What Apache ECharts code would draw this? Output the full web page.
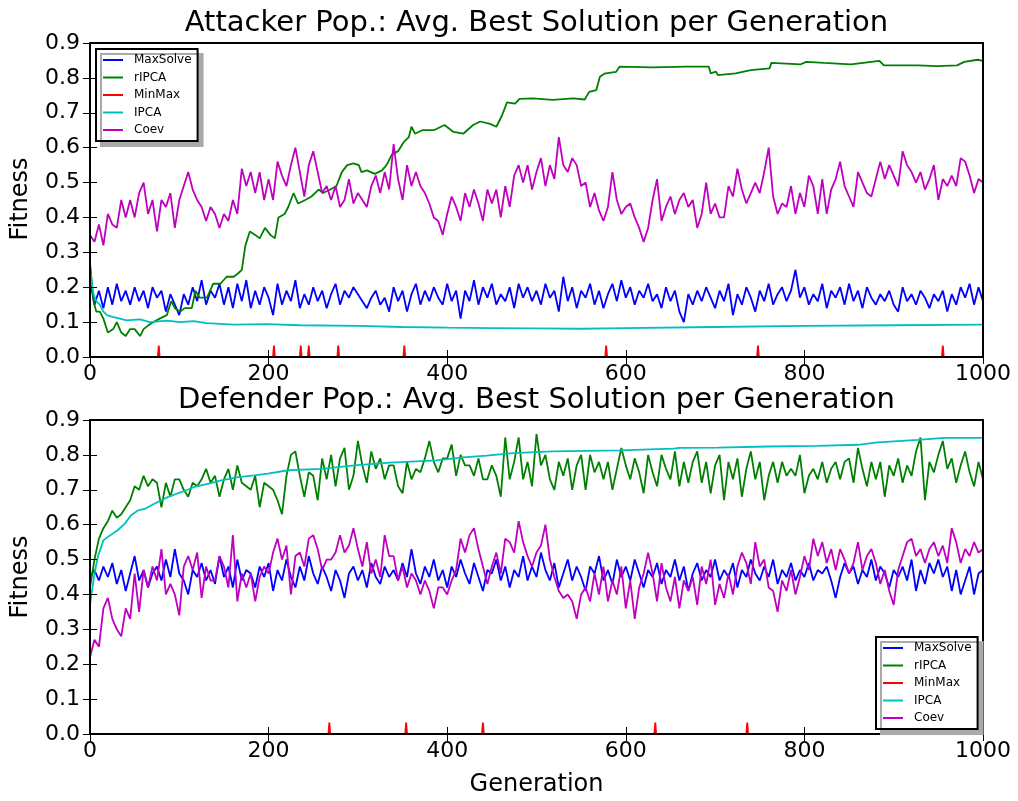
<!DOCTYPE html>
<html>
<head>
<meta charset="utf-8">
<title>Avg. Best Solution per Generation</title>
<script src="https://cdn.jsdelivr.net/npm/echarts@6.0.0/dist/echarts.min.js"></script>
<style>
  html, body { margin: 0; padding: 0; background: #fff; }
  #chart { width: 1018px; height: 801px; }
</style>
</head>
<body>
<div id="chart"></div>
<script>
// noisy curves are read every GEN_STEP generations
const GEN_STEP = 5;
const seriesNames = ["MaxSolve", "rIPCA", "MinMax", "IPCA", "Coev"];
const seriesColors = ["#0000ff", "#008000", "#ff0000", "#00bfbf", "#bf00bf"];
const spikeHeight = 0.033;

// ---- Attacker population ----
const attMaxSolve = [
  0.22, 0.15, 0.19, 0.14, 0.20, 0.15, 0.21, 0.16, 0.19, 0.15,
  0.20, 0.16, 0.19, 0.14, 0.20, 0.17, 0.19, 0.13, 0.18, 0.15,
  0.12, 0.18, 0.15, 0.20, 0.16, 0.22, 0.15, 0.19, 0.17, 0.21,
  0.15, 0.20, 0.14, 0.21, 0.16, 0.22, 0.14, 0.19, 0.15, 0.20,
  0.17, 0.12, 0.21, 0.15, 0.19, 0.16, 0.22, 0.14, 0.18, 0.15,
  0.20, 0.16, 0.19, 0.14, 0.18, 0.21, 0.15, 0.19, 0.17, 0.20,
  0.18, 0.16, 0.14, 0.17, 0.19, 0.15, 0.17, 0.13, 0.20, 0.16,
  0.19, 0.13, 0.18, 0.21, 0.15, 0.19, 0.16, 0.20, 0.17, 0.15,
  0.21, 0.16, 0.19, 0.11, 0.19, 0.16, 0.22, 0.15, 0.20, 0.17,
  0.21, 0.15, 0.18, 0.16, 0.20, 0.14, 0.21, 0.17, 0.20, 0.16,
  0.19, 0.15, 0.21, 0.17, 0.19, 0.13, 0.23, 0.16, 0.20, 0.14,
  0.19, 0.17, 0.21, 0.15, 0.19, 0.14, 0.18, 0.21, 0.16, 0.22,
  0.17, 0.20, 0.15, 0.19, 0.17, 0.21, 0.16, 0.18, 0.14, 0.20,
  0.16, 0.19, 0.13, 0.10, 0.18, 0.15, 0.19, 0.16, 0.20, 0.17,
  0.14, 0.19, 0.16, 0.21, 0.12, 0.18, 0.15, 0.20, 0.17, 0.13,
  0.19, 0.16, 0.21, 0.15, 0.18, 0.20, 0.16, 0.19, 0.25, 0.17,
  0.20, 0.15, 0.18, 0.16, 0.21, 0.14, 0.19, 0.17, 0.20, 0.15,
  0.21, 0.16, 0.19, 0.14, 0.20, 0.17, 0.15, 0.18, 0.16, 0.19,
  0.15, 0.13, 0.20, 0.16, 0.18, 0.15, 0.19, 0.17, 0.14, 0.18,
  0.16, 0.19, 0.13, 0.18, 0.15, 0.20, 0.17, 0.21, 0.15, 0.20,
  0.16
];
const attCoev = [
  0.35, 0.33, 0.38, 0.32, 0.41, 0.38, 0.37, 0.45, 0.40, 0.45,
  0.40, 0.47, 0.50, 0.41, 0.45, 0.36, 0.45, 0.43, 0.47, 0.37,
  0.45, 0.49, 0.53, 0.48, 0.45, 0.43, 0.39, 0.43, 0.41, 0.37,
  0.41, 0.39, 0.45, 0.41, 0.54, 0.49, 0.53, 0.47, 0.53, 0.45,
  0.51, 0.45, 0.56, 0.52, 0.49, 0.55, 0.60, 0.53, 0.46, 0.55,
  0.59, 0.53, 0.47, 0.49, 0.45, 0.49, 0.43, 0.45, 0.51, 0.44,
  0.47, 0.45, 0.43, 0.49, 0.52, 0.47, 0.53, 0.48, 0.61, 0.51,
  0.45, 0.55, 0.49, 0.53, 0.49, 0.47, 0.44, 0.40, 0.39, 0.35,
  0.41, 0.46, 0.43, 0.39, 0.47, 0.43, 0.48, 0.44, 0.39, 0.48,
  0.44, 0.48, 0.40, 0.49, 0.43, 0.52, 0.55, 0.50, 0.55, 0.48,
  0.53, 0.57, 0.49, 0.55, 0.51, 0.63, 0.55, 0.53, 0.57, 0.55,
  0.49, 0.50, 0.43, 0.47, 0.42, 0.39, 0.43, 0.53, 0.45, 0.41,
  0.43, 0.44, 0.40, 0.37, 0.33, 0.37, 0.45, 0.51, 0.39, 0.43,
  0.46, 0.41, 0.45, 0.47, 0.43, 0.45, 0.37, 0.41, 0.50, 0.41,
  0.44, 0.40, 0.40, 0.49, 0.46, 0.54, 0.48, 0.44, 0.47, 0.50,
  0.47, 0.53, 0.60, 0.46, 0.41, 0.44, 0.43, 0.49, 0.41, 0.47,
  0.43, 0.52, 0.49, 0.41, 0.51, 0.41, 0.48, 0.51, 0.56, 0.49,
  0.46, 0.43, 0.53, 0.50, 0.47, 0.46, 0.51, 0.56, 0.51, 0.55,
  0.52, 0.49, 0.59, 0.55, 0.53, 0.50, 0.53, 0.48, 0.51, 0.55,
  0.45, 0.51, 0.49, 0.52, 0.49, 0.57, 0.56, 0.52, 0.47, 0.51,
  0.50
];
// rIPCA (attacker) is a step-like curve, read at its breakpoints
const attRipcaGen = [
  0, 4, 7, 11, 15, 20, 26, 30, 35, 40,
  45, 50, 56, 60, 65, 71, 78, 86, 91, 95,
  101, 106, 114, 118, 123, 131, 138, 146, 153, 161,
  166, 170, 174, 179, 185, 190, 196, 202, 207, 211,
  218, 222, 228, 233, 241, 248, 256, 261, 269, 276,
  282, 288, 295, 301, 304, 310, 319, 327, 332, 338,
  345, 351, 357, 360, 364, 372, 385, 397, 407, 418,
  429, 437, 448, 455, 461, 467, 476, 481, 496, 518,
  541, 554, 559, 567, 571, 576, 589, 593, 630, 668,
  693, 695, 701, 703, 723, 740, 761, 763, 796, 802,
  822, 852, 884, 889, 927, 949, 971, 979, 994, 1000
];
const attRipca = [
  0.27, 0.16, 0.13, 0.13, 0.11, 0.07, 0.08, 0.10, 0.07, 0.06,
  0.08, 0.08, 0.06, 0.08, 0.09, 0.10, 0.11, 0.12, 0.16, 0.14,
  0.13, 0.14, 0.14, 0.19, 0.17, 0.17, 0.21, 0.21, 0.23, 0.23,
  0.24, 0.25, 0.32, 0.36, 0.35, 0.34, 0.37, 0.35, 0.34, 0.40,
  0.41, 0.43, 0.47, 0.44, 0.45, 0.46, 0.48, 0.47, 0.48, 0.49,
  0.53, 0.55, 0.555, 0.55, 0.53, 0.535, 0.525, 0.535, 0.55, 0.58,
  0.59, 0.615, 0.63, 0.66, 0.64, 0.65, 0.65, 0.665, 0.645, 0.64,
  0.665, 0.675, 0.668, 0.66, 0.69, 0.73, 0.726, 0.74, 0.741, 0.737,
  0.741, 0.738, 0.76, 0.765, 0.803, 0.812, 0.817, 0.832, 0.830, 0.832,
  0.832, 0.813, 0.818, 0.808, 0.813, 0.822, 0.827, 0.843, 0.839, 0.846,
  0.843, 0.839, 0.849, 0.836, 0.836, 0.834, 0.836, 0.846, 0.852, 0.849
];
const attIpcaGen = [
  0, 2, 4, 7, 11, 15, 19, 25, 30, 41,
  56, 67, 86, 101, 116, 131, 161, 198, 235, 300,
  350, 400, 450, 500, 550, 600, 700, 800, 900, 1000
];
const attIpca = [
  0.26, 0.21, 0.18, 0.16, 0.15, 0.13, 0.12, 0.115, 0.112, 0.105,
  0.108, 0.10, 0.104, 0.10, 0.103, 0.097, 0.093, 0.094, 0.091, 0.089,
  0.086, 0.084, 0.083, 0.082, 0.081, 0.083, 0.086, 0.089, 0.091, 0.093
];
const attMinMaxSpikes = [77, 206, 236, 245, 278, 352, 578, 748, 955];

// ---- Defender population ----
const defMaxSolve = [
  0.45, 0.47, 0.44, 0.48, 0.45, 0.49, 0.43, 0.47, 0.41, 0.46,
  0.51, 0.44, 0.47, 0.42, 0.46, 0.48, 0.44, 0.50, 0.45, 0.53,
  0.46, 0.44, 0.40, 0.47, 0.45, 0.49, 0.44, 0.47, 0.43, 0.51,
  0.45, 0.48, 0.42, 0.50, 0.44, 0.47, 0.46, 0.42, 0.48, 0.45,
  0.49, 0.41, 0.47, 0.44, 0.50, 0.45, 0.42, 0.48, 0.44, 0.51,
  0.46, 0.43, 0.48, 0.45, 0.41, 0.47, 0.44, 0.39, 0.46, 0.48,
  0.44, 0.47, 0.42, 0.49, 0.45, 0.43, 0.48, 0.45, 0.47, 0.44,
  0.49, 0.45, 0.53, 0.46, 0.43, 0.48, 0.45, 0.50, 0.44, 0.47,
  0.42, 0.48, 0.45, 0.50, 0.46, 0.43, 0.49, 0.45, 0.41, 0.47,
  0.46, 0.50, 0.44, 0.48, 0.42, 0.47, 0.45, 0.51, 0.44, 0.48,
  0.45, 0.52, 0.47, 0.44, 0.49, 0.42, 0.46, 0.50, 0.44, 0.48,
  0.45, 0.41, 0.48, 0.46, 0.51, 0.44, 0.47, 0.43, 0.50, 0.45,
  0.48, 0.44, 0.50, 0.46, 0.42, 0.47, 0.45, 0.49, 0.43, 0.47,
  0.45, 0.50, 0.44, 0.48, 0.41, 0.46, 0.49, 0.44, 0.47, 0.45,
  0.50, 0.44, 0.47, 0.45, 0.49, 0.42, 0.47, 0.45, 0.50, 0.46,
  0.44, 0.48, 0.45, 0.50, 0.43, 0.47, 0.45, 0.49, 0.44, 0.47,
  0.45, 0.49, 0.44, 0.47, 0.46, 0.48, 0.44, 0.39, 0.45, 0.49,
  0.46, 0.48, 0.43, 0.47, 0.45, 0.50, 0.44, 0.48, 0.46, 0.42,
  0.47, 0.45, 0.48, 0.44, 0.50, 0.41, 0.47, 0.43, 0.49, 0.46,
  0.50, 0.45, 0.48, 0.41, 0.47, 0.40, 0.44, 0.48, 0.40, 0.46,
  0.47
];
const defRipca = [
  0.42, 0.50, 0.56, 0.59, 0.61, 0.64, 0.62, 0.63, 0.65, 0.67,
  0.71, 0.70, 0.74, 0.71, 0.73, 0.72, 0.65, 0.72, 0.68, 0.73,
  0.73, 0.70, 0.68, 0.72, 0.71, 0.73, 0.76, 0.72, 0.74, 0.68,
  0.73, 0.76, 0.70, 0.77, 0.72, 0.71, 0.70, 0.74, 0.65, 0.72,
  0.71, 0.70, 0.67, 0.63, 0.74, 0.80, 0.81, 0.74, 0.68, 0.75,
  0.74, 0.67, 0.79, 0.73, 0.80, 0.71, 0.79, 0.82, 0.70, 0.74,
  0.84, 0.77, 0.72, 0.81, 0.76, 0.79, 0.73, 0.77, 0.77, 0.71,
  0.69, 0.78, 0.73, 0.76, 0.75, 0.79, 0.84, 0.78, 0.75, 0.79,
  0.79, 0.83, 0.74, 0.80, 0.77, 0.77, 0.74, 0.79, 0.73, 0.73,
  0.77, 0.74, 0.68, 0.85, 0.73, 0.78, 0.85, 0.73, 0.78, 0.71,
  0.86, 0.77, 0.80, 0.73, 0.70, 0.78, 0.74, 0.79, 0.70, 0.77,
  0.80, 0.70, 0.80, 0.75, 0.78, 0.73, 0.78, 0.70, 0.76, 0.82,
  0.77, 0.73, 0.79, 0.75, 0.69, 0.80, 0.75, 0.71, 0.80, 0.76,
  0.73, 0.81, 0.71, 0.78, 0.72, 0.78, 0.81, 0.72, 0.78, 0.69,
  0.77, 0.80, 0.67, 0.78, 0.73, 0.79, 0.68, 0.76, 0.81, 0.73,
  0.78, 0.67, 0.74, 0.78, 0.72, 0.78, 0.74, 0.76, 0.74, 0.80,
  0.69, 0.74, 0.76, 0.73, 0.78, 0.72, 0.76, 0.78, 0.73, 0.78,
  0.79, 0.72, 0.82, 0.76, 0.71, 0.78, 0.73, 0.78, 0.68, 0.77,
  0.74, 0.79, 0.72, 0.77, 0.74, 0.81, 0.85, 0.67, 0.78, 0.75,
  0.80, 0.84, 0.76, 0.79, 0.72, 0.77, 0.81, 0.75, 0.71, 0.78,
  0.73
];
const defCoev = [
  0.22, 0.27, 0.25, 0.36, 0.39, 0.33, 0.30, 0.28, 0.36, 0.33,
  0.46, 0.35, 0.47, 0.42, 0.48, 0.44, 0.53, 0.40, 0.43, 0.40,
  0.34, 0.48, 0.51, 0.47, 0.52, 0.39, 0.48, 0.44, 0.44, 0.51,
  0.48, 0.42, 0.57, 0.38, 0.46, 0.42, 0.46, 0.38, 0.45, 0.48,
  0.46, 0.52, 0.56, 0.50, 0.54, 0.40, 0.51, 0.52, 0.48, 0.56,
  0.57, 0.53, 0.47, 0.50, 0.50, 0.52, 0.57, 0.52, 0.54, 0.59,
  0.53, 0.48, 0.55, 0.46, 0.50, 0.45, 0.57, 0.51, 0.51, 0.44,
  0.48, 0.42, 0.46, 0.44, 0.40, 0.44, 0.41, 0.36, 0.42, 0.42,
  0.40, 0.44, 0.47, 0.56, 0.52, 0.57, 0.59, 0.53, 0.48, 0.43,
  0.48, 0.52, 0.46, 0.56, 0.55, 0.52, 0.61, 0.55, 0.51, 0.48,
  0.52, 0.54, 0.60, 0.50, 0.45, 0.41, 0.39, 0.40, 0.38, 0.33,
  0.40, 0.42, 0.38, 0.46, 0.40, 0.48, 0.38, 0.44, 0.40, 0.48,
  0.36, 0.44, 0.33, 0.42, 0.46, 0.52, 0.46, 0.38, 0.49, 0.42,
  0.38, 0.45, 0.36, 0.44, 0.41, 0.45, 0.37, 0.48, 0.43, 0.50,
  0.37, 0.43, 0.39, 0.46, 0.40, 0.48, 0.52, 0.49, 0.43, 0.55,
  0.48, 0.50, 0.42, 0.41, 0.35, 0.44, 0.41, 0.47, 0.40, 0.45,
  0.51, 0.47, 0.56, 0.51, 0.55, 0.49, 0.53, 0.47, 0.53, 0.50,
  0.46, 0.49, 0.55, 0.47, 0.51, 0.53, 0.49, 0.43, 0.47, 0.41,
  0.37, 0.47, 0.51, 0.55, 0.56, 0.51, 0.53, 0.49, 0.53, 0.55,
  0.51, 0.54, 0.49, 0.59, 0.55, 0.49, 0.53, 0.51, 0.55, 0.52,
  0.53
];
const defIpcaGen = [
  0, 5, 9, 15, 20, 31, 39, 46, 54, 61,
  72, 87, 102, 117, 132, 147, 166, 184, 199, 222,
  259, 296, 336, 388, 418, 444, 474, 518, 593, 653,
  660, 703, 759, 815, 860, 882, 927, 957, 1000
];
const defIpca = [
  0.37, 0.46, 0.51, 0.555, 0.565, 0.584, 0.603, 0.627, 0.641, 0.645,
  0.66, 0.679, 0.693, 0.708, 0.717, 0.727, 0.736, 0.741, 0.746, 0.756,
  0.76, 0.77, 0.778, 0.784, 0.793, 0.798, 0.805, 0.81, 0.813, 0.818,
  0.82, 0.821, 0.824, 0.826, 0.829, 0.836, 0.843, 0.849, 0.849
];
const defMinMaxSpikes = [268, 354, 440, 633, 736];

// ---- helpers ----
const FONT = "DejaVu Sans";

function stepPairs(vals) {
  return vals.map((v, i) => [i * GEN_STEP, v]);
}
function zipPairs(gens, vals) {
  return gens.map((g, i) => [g, vals[i]]);
}
function spikePairs(gens) {
  const out = [[0, 0]];
  gens.forEach(g => {
    out.push([g - 1, 0], [g, spikeHeight], [g + 1, 0]);
  });
  out.push([1000, 0]);
  return out;
}

const grids = [
  { left: 90, top: 43, width: 893, height: 314 },
  { left: 90, top: 420, width: 893, height: 314 }
];

const tickStyle = { inside: true, length: 7, lineStyle: { color: "#000", width: 1 } };

function makeXAxes(gi) {
  const base = {
    gridIndex: gi, type: "value", min: 0, max: 1000, interval: 200,
    axisLine: { show: false }, splitLine: { show: false }, axisTick: tickStyle, z: 4
  };
  return [
    Object.assign({}, base, {
      position: "bottom",
      axisLabel: { color: "#000", fontSize: 22, fontFamily: FONT, margin: 6, formatter: v => String(v) }
    }),
    Object.assign({}, base, { position: "top", axisLabel: { show: false } })
  ];
}
function makeYAxes(gi) {
  const base = {
    gridIndex: gi, type: "value", min: 0, max: 0.9, interval: 0.1,
    axisLine: { show: false }, splitLine: { show: false }, axisTick: tickStyle, z: 4
  };
  return [
    Object.assign({}, base, {
      position: "left",
      axisLabel: {
        color: "#000", fontSize: 22, fontFamily: FONT, margin: 10,
        formatter: v => v.toFixed(1)
      }
    }),
    Object.assign({}, base, { position: "right", axisLabel: { show: false } })
  ];
}

function makeSeries(gi, curves) {
  return curves.map((data, k) => ({
    name: seriesNames[k],
    type: "line",
    xAxisIndex: gi * 2,
    yAxisIndex: gi * 2,
    data: data,
    showSymbol: false,
    symbol: "none",
    lineStyle: { color: seriesColors[k], width: 1.8 },
    itemStyle: { color: seriesColors[k] },
    z: 2 + k * 0.01,
    animation: false
  }));
}

function makeLegend(left, top) {
  return {
    data: seriesNames,
    orient: "vertical",
    left: left, top: top,
    padding: [4, 6, 4, 7],
    itemWidth: 20, itemHeight: 2, itemGap: 3.5,
    icon: "rect",
    selectedMode: false,
    textStyle: { fontSize: 12, lineHeight: 14, fontFamily: FONT, color: "#000", padding: [0, 0, 0, 6] },
    borderColor: "#000", borderWidth: 2, borderRadius: 0,
    backgroundColor: "#fff",
    shadowColor: "#aaaaaa", shadowBlur: 0, shadowOffsetX: 5, shadowOffsetY: 5,
    z: 10
  };
}

const attCurves = [
  stepPairs(attMaxSolve),
  zipPairs(attRipcaGen, attRipca),
  spikePairs(attMinMaxSpikes),
  zipPairs(attIpcaGen, attIpca),
  stepPairs(attCoev)
];
const defCurves = [
  stepPairs(defMaxSolve),
  stepPairs(defRipca),
  spikePairs(defMinMaxSpikes),
  zipPairs(defIpcaGen, defIpca),
  stepPairs(defCoev)
];

const option = {
  backgroundColor: "#fff",
  animation: false,
  grid: grids.map(g => Object.assign({
    show: true, borderColor: "#000", borderWidth: 2,
    backgroundColor: "transparent", containLabel: false, outerBoundsMode: "none", z: 3
  }, g)),
  xAxis: makeXAxes(0).concat(makeXAxes(1)),
  yAxis: makeYAxes(0).concat(makeYAxes(1)),
  legend: [makeLegend(96, 49), makeLegend(876, 637)],
  graphic: [
    { type: "text", style: { text: "Attacker Pop.: Avg. Best Solution per Generation", x: 536.5, y: 23, textAlign: "center", textVerticalAlign: "middle", font: "29px 'DejaVu Sans'", fill: "#000" } },
    { type: "text", style: { text: "Defender Pop.: Avg. Best Solution per Generation", x: 536.5, y: 400, textAlign: "center", textVerticalAlign: "middle", font: "29px 'DejaVu Sans'", fill: "#000" } },
    { type: "text", rotation: Math.PI / 2, x: 21, y: 199, style: { text: "Fitness", textAlign: "center", textVerticalAlign: "middle", font: "24px 'DejaVu Sans'", fill: "#000" } },
    { type: "text", rotation: Math.PI / 2, x: 21, y: 577, style: { text: "Fitness", textAlign: "center", textVerticalAlign: "middle", font: "24px 'DejaVu Sans'", fill: "#000" } },
    { type: "text", style: { text: "Generation", x: 536.5, y: 785, textAlign: "center", textVerticalAlign: "middle", font: "24px 'DejaVu Sans'", fill: "#000" } }
  ],
  series: makeSeries(0, attCurves).concat(makeSeries(1, defCurves))
};

const chartObj = echarts.init(document.getElementById("chart"), null, { renderer: "canvas" });
chartObj.setOption(option, true);
window.addEventListener("resize", () => { chartObj.resize(); });
</script>
</body>
</html>
